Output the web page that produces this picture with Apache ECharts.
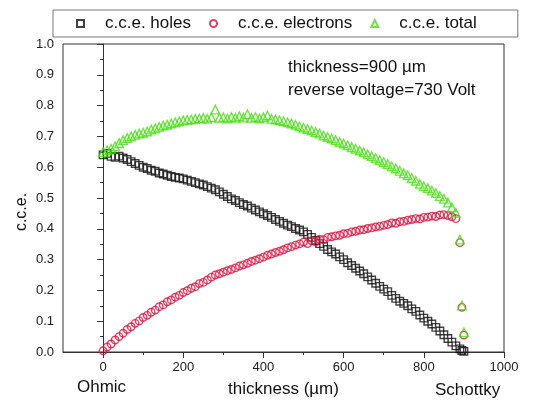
<!DOCTYPE html>
<html><head><meta charset="utf-8">
<script src="https://cdn.jsdelivr.net/npm/echarts@6/dist/echarts.min.js"></script>
<style>html,body{margin:0;padding:0;background:#fff}#c{width:537px;height:403px}</style>
</head><body><div id="c"></div><script>
const thickness=[0,10,20,30,40,50,60,70,80,90,100,110,120,130,140,150,160,170,180,190,200,210,220,230,240,250,260,270,280,290,300,310,320,330,340,350,360,370,380,390,400,410,420,430,440,450,460,470,480,490,500,510,520,530,540,550,560,570,580,590,600,610,620,630,640,650,660,670,680,690,700,710,720,730,740,750,760,770,780,790,800,810,820,830,840,850,860,870,880,890,895,900];
const holes=[.640,.645,.635,.632,.636,.630,.625,.618,.612,.606,
.600,.596,.590,.587,.581,.578,.574,.570,.567,.565,
.562,.558,.554,.550,.546,.542,.537,.532,.527,.520,
.512,.505,.497,.492,.485,.479,.474,.467,.461,.455,
.449,.443,.437,.430,.424,.418,.412,.407,.401,.396,
.390,.382,.372,.362,.352,.343,.333,.325,.318,.309,
.300,.290,.281,.272,.263,.254,.244,.234,.223,.213,
.204,.196,.184,.174,.165,.158,.150,.140,.132,.120,
.110,.100,.091,.080,.068,.056,.044,.032,.020,
.010,.005,.002];
const electrons=[.004,.016,.026,.039,.050,.061,.073,.082,.093,.101,
.112,.119,.129,.136,.147,.153,.163,.169,.178,.184,
.193,.199,.207,.212,.222,.226,.234,.243,.250,.254,
.259,.264,.268,.273,.279,.283,.288,.294,.298,.303,
.308,.314,.318,.323,.327,.332,.338,.342,.347,.351,
.357,.352,.361,.358,.366,.365,.372,.374,.377,.379,
.384,.385,.390,.392,.396,.397,.401,.403,.406,.408,
.411,.414,.419,.418,.423,.424,.428,.430,.433,.432,
.437,.438,.441,.440,.445,.446,.443,.439,.433,
.355,.145,.055];
const total=[.648,.655,.660,.668,.678,.688,.695,.700,.705,.709,
.712,.716,.722,.726,.731,.735,.738,.742,.746,.749,
.752,.754,.755,.757,.758,.760,.757,.762,.787,.760,
.762,.758,.763,.760,.765,.761,.772,.760,.763,.758,
.762,.768,.757,.755,.752,.749,.746,.742,.738,.733,
.728,.724,.719,.714,.709,.703,.698,.693,.688,.682,
.677,.671,.665,.660,.654,.648,.642,.636,.630,.623,
.617,.610,.603,.596,.588,.580,.574,.565,.556,.546,
.538,.532,.524,.516,.506,.497,.485,.470,.452,
.365,.151,.064];
const seriesNames=['c.c.e. holes','c.c.e. electrons','c.c.e. total'];
const xTickValues=[0,200,400,600,800,1000];
const xMinorTickValues=[100,300,500,700,900];
const annotations=['thickness=900 µm','reverse voltage=730 Volt'];

const FONT='"Liberation Sans", Arial, Helvetica, sans-serif';
const chart=echarts.init(document.getElementById('c'),null,{renderer:'canvas'});
const pairs=ys=>thickness.map((x,i)=>[x,ys[i]]);
const axisColor='#333';
const option={
  animation:false,
  backgroundColor:'#fff',
  grid:{left:63,top:44,width:441,height:309,show:true,borderColor:axisColor,borderWidth:1,backgroundColor:'transparent'},
  legend:{
    left:53,top:10,orient:'horizontal',itemWidth:7,itemHeight:7,itemGap:18,
    padding:[5,41,5,23],borderColor:'#777',borderWidth:1,
    textStyle:{fontFamily:FONT,fontSize:17,color:'#111',padding:[0,0,0,16]},
    data:seriesNames
  },
  xAxis:[{
    type:'value',min:-100,max:1000,interval:100,
    axisLine:{show:true,lineStyle:{color:axisColor,width:1}},
    axisTick:{show:true,customValues:xTickValues,length:6,lineStyle:{color:axisColor}},
    axisLabel:{customValues:xTickValues,formatter:v=>String(v),fontSize:13,margin:9,color:'#222',fontFamily:FONT},
    splitLine:{show:false},
    name:'thickness (µm)',nameLocation:'middle',nameGap:29,
    nameTextStyle:{fontFamily:FONT,fontSize:17,color:'#111'}
  },{
    type:'value',min:-100,max:1000,interval:100,position:'bottom',
    axisLine:{show:false},
    axisTick:{show:true,customValues:xMinorTickValues,length:3,lineStyle:{color:axisColor}},
    axisLabel:{show:false},splitLine:{show:false}
  }],
  yAxis:{
    type:'value',min:0,max:1,interval:0.1,
    axisLine:{show:true,lineStyle:{color:axisColor,width:1}},
    axisTick:{show:true,length:6,lineStyle:{color:axisColor}},
    minorTick:{show:true,splitNumber:2,length:3,lineStyle:{color:axisColor}},
    axisLabel:{formatter:v=>v.toFixed(1),fontSize:13,margin:9,color:'#222',fontFamily:FONT},
    splitLine:{show:false},minorSplitLine:{show:false}
  },
  series:[
    {name:seriesNames[0],type:'scatter',symbol:'rect',symbolSize:7.5,data:pairs(holes),
     itemStyle:{color:'rgba(0,0,0,0)',borderColor:'#111',borderWidth:1.4}},
    {name:seriesNames[1],type:'scatter',symbol:'circle',symbolSize:7.5,data:pairs(electrons),
     itemStyle:{color:'rgba(0,0,0,0)',borderColor:'#e0103c',borderWidth:1.4}},
    {name:seriesNames[2],type:'scatter',symbol:'triangle',symbolSize:8.5,data:pairs(total),
     itemStyle:{color:'rgba(0,0,0,0)',borderColor:'#48e014',borderWidth:1.4}}
  ],
  graphic:[
    {type:'text',left:288,top:59,style:{text:annotations[0],font:'17px '+FONT,fill:'#111'}},
    {type:'text',left:288,top:82,style:{text:annotations[1],font:'17px '+FONT,fill:'#111'}},
    {type:'text',left:77,top:379,style:{text:'Ohmic',font:'17px '+FONT,fill:'#111'}},
    {type:'text',left:435,top:382,style:{text:'Schottky',font:'17px '+FONT,fill:'#111'}},
    {type:'text',x:22,y:212,rotation:Math.PI/2,style:{text:'c.c.e.',font:'16px '+FONT,fill:'#111',align:'center',verticalAlign:'middle'}}
  ]
};
chart.setOption(option);
</script></body></html>
